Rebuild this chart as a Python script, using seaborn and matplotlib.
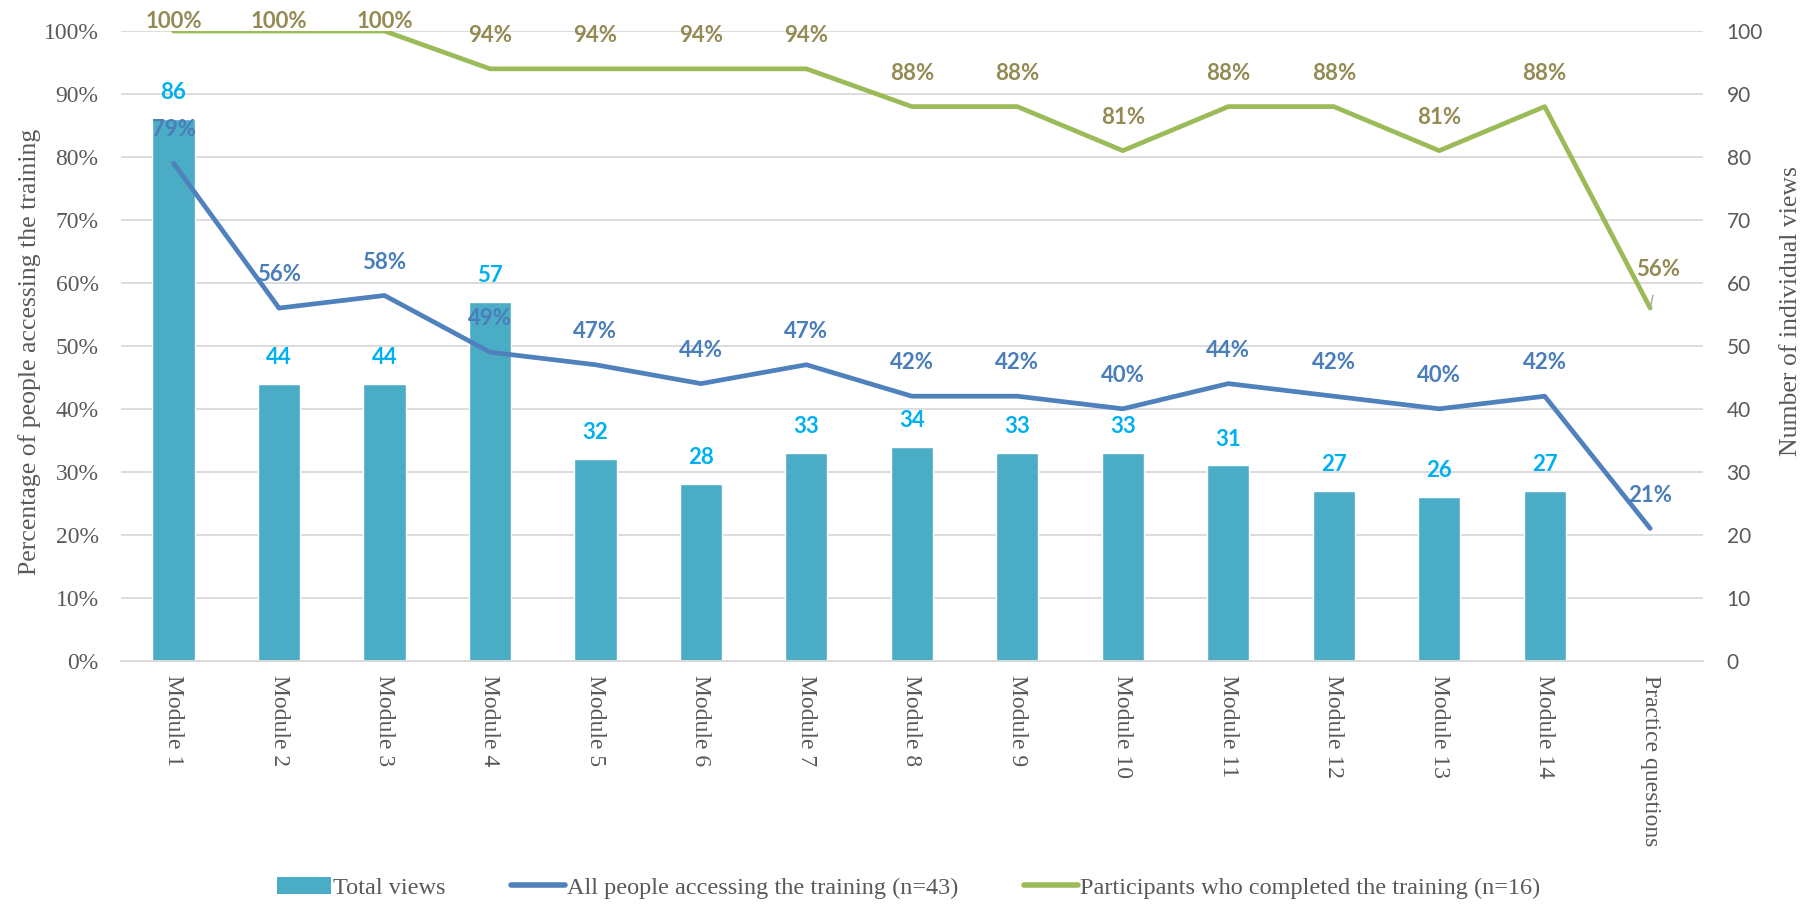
import numpy as np
import pandas as pd
import matplotlib
matplotlib.use("Agg")
import matplotlib.pyplot as plt
import seaborn as sns
from matplotlib.patches import Patch
from matplotlib.lines import Line2D

categories = ["Module 1", "Module 2", "Module 3", "Module 4", "Module 5", "Module 6",
              "Module 7", "Module 8", "Module 9", "Module 10", "Module 11", "Module 12",
              "Module 13", "Module 14", "Practice questions"]
total_views = [86, 44, 44, 57, 32, 28, 33, 34, 33, 33, 31, 27, 26, 27, np.nan]
all_people_pct = [79, 56, 58, 49, 47, 44, 47, 42, 42, 40, 44, 42, 40, 42, 21]
completed_pct = [100, 100, 100, 94, 94, 94, 94, 88, 88, 81, 88, 88, 81, 88, 56]

sns.set_theme(style="white")
serif = ["Liberation Serif", "DejaVu Serif"]
sans = ["Lato", "DejaVu Sans"]
plt.rcParams["font.family"] = serif

BAR = "#4BACC6"
BLUE = "#4F81BD"
GREEN = "#9BBB59"
GRAY = "#595959"

df = pd.DataFrame({"cat": categories, "views": total_views,
                   "all": np.array(all_people_pct) / 100.0,
                   "done": np.array(completed_pct) / 100.0})

fig = plt.figure(figsize=(18.03, 9.05), dpi=100)
ax = fig.add_subplot(111)
ax2 = ax.twinx()
fig.subplots_adjust(left=0.067, right=0.9445, bottom=0.27, top=0.9657)

# bars on the right (count) axis
sns.barplot(data=df, x="cat", y="views", order=categories, color=BAR,
            width=0.4, saturation=1, ax=ax2, zorder=2)
# lines on the left (percentage) axis
sns.pointplot(data=df, x="cat", y="all", order=categories, color=BLUE,
              markers="", linestyles="-", errorbar=None, ax=ax,
              linewidth=3.4)
sns.pointplot(data=df, x="cat", y="done", order=categories, color=GREEN,
              markers="", linestyles="-", errorbar=None, ax=ax,
              linewidth=3.4)
for ln in ax.lines:
    ln.set_solid_capstyle("round")
    ln.set_solid_joinstyle("round")

ax.set_zorder(ax2.get_zorder() + 1)
ax.patch.set_visible(False)

ax.set_ylim(0, 1)
ax2.set_ylim(0, 100)
ax.set_xlim(-0.5, len(categories) - 0.5)
ax.set_yticks(np.arange(0, 1.01, 0.1))
ax.set_yticklabels([f"{int(round(v*100))}%" for v in np.arange(0, 1.01, 0.1)],
                   fontsize=17, color=GRAY, family=serif)
ax2.set_yticks(np.arange(0, 101, 10))
ax2.set_yticklabels([str(v) for v in range(0, 101, 10)], fontsize=15,
                    color=GRAY, family=sans)
ax.set_xticks(range(len(categories)))
ax.set_xticklabels(categories, rotation=-90, fontsize=17, color=GRAY,
                   family=serif, va="top", ha="center")
ax.tick_params(axis="x", length=0, pad=10)
ax.tick_params(axis="y", length=0, pad=16)
ax2.tick_params(axis="y", length=0, pad=17)

ax2.grid(axis="y", color="#D9D9D9", linewidth=1.3)
ax2.set_axisbelow(True)
ax.grid(False)
for a in (ax, ax2):
    for s in ("top", "left", "right"):
        a.spines[s].set_visible(False)
    a.spines["bottom"].set_color("#D9D9D9")
    a.spines["bottom"].set_linewidth(1.3)
    a.set_xlabel("")

ax.set_ylabel("Percentage of people accessing the training", fontsize=18.5,
              color=GRAY, family=serif)
ax.yaxis.set_label_coords(-0.058, 0.49)
ax.yaxis.label.set(ha="center", va="center", rotation_mode="anchor")
ax2.set_ylabel("Number of individual views", fontsize=18.5, color=GRAY,
               family=serif, rotation=90)
ax2.yaxis.set_label_coords(1.0555, 0.555)
ax2.yaxis.label.set(ha="center", va="center", rotation_mode="anchor")

lab_font = dict(fontsize=16, fontweight="bold", family=sans,
                ha="center", va="center")
for i, v in enumerate(total_views):
    if np.isnan(v):
        continue
    ax2.annotate(f"{int(v)}", (i, v), xytext=(0, 19), textcoords="offset points",
                 color="#00B0F0", **lab_font)
for i, v in enumerate(all_people_pct):
    ax.annotate(f"{v}%", (i, v / 100), xytext=(0, 24), textcoords="offset points",
                color="#4A7EBB", **lab_font)
for i, v in enumerate(completed_pct):
    if i == len(completed_pct) - 1:
        ax.annotate(f"{v}%", (i, v / 100), xytext=(6, 28),
                    textcoords="offset points", color="#948A54",
                    arrowprops=dict(arrowstyle="-", color="#A6A6A6", lw=1,
                                    shrinkA=9, shrinkB=1),
                    **lab_font)
    else:
        off = 7 if v >= 100 else 24
        ax.annotate(f"{v}%", (i, v / 100), xytext=(0, off),
                    textcoords="offset points", color="#948A54", **lab_font)

handles = [Patch(facecolor=BAR, edgecolor="none"),
           Line2D([0], [0], color=BLUE, lw=4, solid_capstyle="round"),
           Line2D([0], [0], color=GREEN, lw=4, solid_capstyle="round")]
labels = ["Total views", "All people accessing the training (n=43)",
          "Participants who completed the training (n=16)"]
leg = fig.legend(handles, labels, loc="center", bbox_to_anchor=(0.504, 0.019),
                 ncol=3, frameon=False, columnspacing=2.7, handlelength=2.2,
                 handletextpad=0.1, prop={"family": serif, "size": 17.5})
for t in leg.get_texts():
    t.set_color(GRAY)

fig.savefig("out.png", dpi=100)
